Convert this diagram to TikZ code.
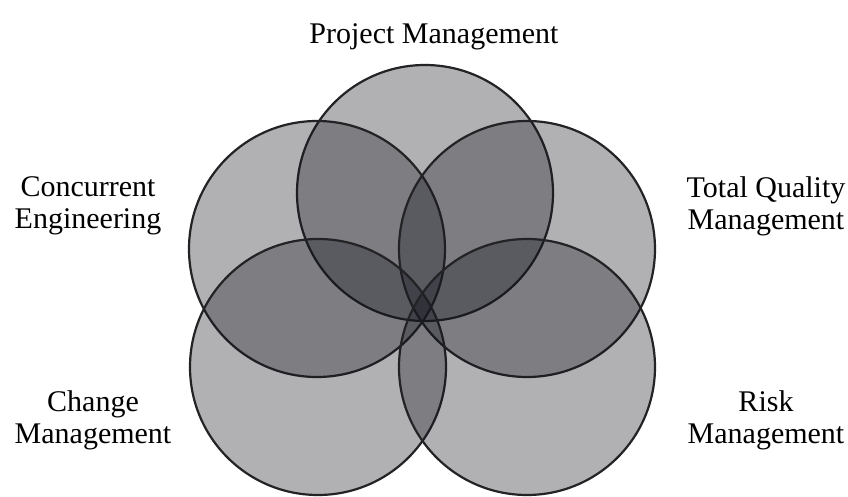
\documentclass[tikz,border=0pt]{standalone}
\usepackage{fontspec}
\setmainfont{Liberation Serif}
\usepackage{tikz}
\usetikzlibrary{positioning}
\definecolor{ringline}{RGB}{35, 35, 38}
\definecolor{ringfill}{RGB}{20, 20, 30}

\begin{document}
\begin{tikzpicture}[
  x=0.5pt, y=0.5pt,
  ring/.style={circle, draw=ringline, line width=1.1pt, fill=ringfill, fill opacity=0.33, minimum size=128pt, inner sep=0pt},
  lbl/.style={align=center, font=\fontsize{15}{16}\selectfont, inner sep=0pt}
]
\useasboundingbox (0,0) rectangle (848,-497);
\fill[white] (0,0) rectangle (848,-497);

% the five fields
\node[ring] (pm) at (425,-193) {};
\node[ring] (ce) at (317,-249) {};
\node[ring] (tqm) at (527,-249) {};
\node[ring] (cm) at (318,-367) {};
\node[ring] (rm) at (527,-367) {};

% names
\node[lbl, anchor=base] (pmname) at (434,-44) {Project Management};
\node[lbl] (cename) at (88,-206) {Concurrent\\Engineering};
\node[lbl] (tqmname) at (766,-206) {Total Quality\\Management};
\node[lbl] (cmname) at (93,-420) {Change\\Management};
\node[lbl] (rmname) at (766,-420) {Risk\\Management};
\end{tikzpicture}
\end{document}
